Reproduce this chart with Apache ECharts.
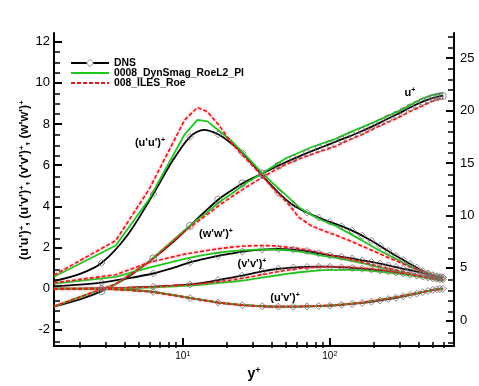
<!DOCTYPE html>
<html>
<head>
<meta charset="utf-8">
<script src="https://cdn.jsdelivr.net/npm/echarts@6/dist/echarts.min.js"></script>
<style>
  html, body { margin: 0; padding: 0; background: #fff; }
  #main { width: 479px; height: 386px; }
</style>
</head>
<body>
<div id="main"></div>
<script>
// y+ stations
var dnsYp = [1.33, 2, 2.8, 4.2, 6.3, 8.5, 11.2, 14, 17.4, 21, 25.4, 34.7, 44.7, 56.5, 70, 84, 100, 120, 142, 166, 192, 220, 250, 282, 316, 352, 390, 428, 466, 502, 535, 562, 587];
var dnsPlain = [1.33, 2, 4.2, 8.5, 14, 21]; // DNS stations drawn without a marker
var lesYp = [1.33, 3.5, 5.9, 10.3, 12.6, 14.7, 17.8, 21.6, 27, 34.5, 42, 51, 62, 75, 90, 110, 135, 165, 200, 240, 290, 350, 420, 500, 587];

// DNS
var uPlusD = [1.33, 2.0, 2.78, 4.1, 5.9, 7.4, 9.0, 10.3, 11.5, 12.3, 13.05, 14.0, 14.75, 15.4, 15.95, 16.4, 16.8, 17.25, 17.65, 18.05, 18.45, 18.85, 19.25, 19.6, 19.95, 20.3, 20.6, 20.85, 21.05, 21.2, 21.3, 21.38, 21.4];
var uuD = [0.37, 0.72, 1.25, 2.6, 4.6, 6.2, 7.38, 7.72, 7.5, 7.1, 6.6, 5.5, 4.67, 4.05, 3.7, 3.45, 3.25, 3.04, 2.82, 2.58, 2.33, 2.08, 1.83, 1.6, 1.4, 1.2, 1.02, 0.86, 0.74, 0.66, 0.6, 0.57, 0.56];
var wwD = [0.12, 0.2, 0.3, 0.5, 0.74, 1.0, 1.28, 1.45, 1.6, 1.7, 1.8, 1.9, 1.93, 1.9, 1.83, 1.72, 1.62, 1.55, 1.47, 1.38, 1.3, 1.22, 1.13, 1.05, 0.97, 0.9, 0.83, 0.76, 0.68, 0.62, 0.57, 0.54, 0.53];
var vvD = [0.0, 0.01, 0.02, 0.05, 0.1, 0.15, 0.21, 0.3, 0.42, 0.53, 0.64, 0.84, 0.97, 1.03, 1.06, 1.07, 1.07, 1.04, 1.01, 0.97, 0.93, 0.89, 0.84, 0.79, 0.74, 0.69, 0.64, 0.59, 0.55, 0.51, 0.48, 0.46, 0.45];
var uvD = [0.0, -0.005, -0.01, -0.05, -0.15, -0.3, -0.45, -0.57, -0.67, -0.74, -0.8, -0.85, -0.87, -0.87, -0.86, -0.84, -0.82, -0.78, -0.74, -0.69, -0.63, -0.57, -0.5, -0.44, -0.37, -0.3, -0.24, -0.17, -0.11, -0.06, -0.03, -0.01, 0.0];

// 0008_DynSmag_RoeL2_PI
var uPlusG = [1.33, 3.45, 5.6, 8.6, 9.6, 10.3, 11.3, 12.1, 13.1, 14.0, 14.75, 15.5, 16.0, 16.5, 16.9, 17.3, 17.9, 18.4, 18.9, 19.4, 19.9, 20.5, 21.1, 21.5, 21.65];
var uuG = [0.58, 2.1, 4.35, 7.5, 8.2, 8.13, 7.65, 7.16, 6.45, 5.64, 5.05, 4.51, 3.95, 3.58, 3.3, 3.05, 2.7, 2.35, 2.0, 1.7, 1.4, 1.1, 0.85, 0.65, 0.55];
var wwG = [0.25, 0.58, 1.02, 1.45, 1.58, 1.67, 1.76, 1.83, 1.88, 1.91, 1.9, 1.87, 1.8, 1.7, 1.6, 1.5, 1.38, 1.25, 1.1, 0.97, 0.84, 0.72, 0.6, 0.5, 0.43];
var vvG = [0.0, 0.02, 0.06, 0.14, 0.18, 0.22, 0.28, 0.34, 0.42, 0.54, 0.63, 0.72, 0.8, 0.86, 0.9, 0.92, 0.92, 0.9, 0.86, 0.8, 0.73, 0.65, 0.56, 0.47, 0.4];
var uvG = [0.0, -0.03, -0.13, -0.4, -0.5, -0.58, -0.67, -0.74, -0.8, -0.84, -0.86, -0.87, -0.86, -0.85, -0.83, -0.79, -0.74, -0.67, -0.58, -0.49, -0.39, -0.28, -0.17, -0.07, 0.0];

// 008_ILES_Roe
var uPlusR = [1.33, 3.45, 5.55, 8.5, 9.4, 10.1, 11.0, 11.8, 12.7, 13.6, 14.3, 14.9, 15.4, 15.8, 16.2, 16.6, 17.2, 17.7, 18.3, 18.8, 19.3, 19.9, 20.4, 20.9, 21.2];
var uuR = [0.66, 2.34, 4.83, 8.2, 8.8, 8.6, 7.9, 7.05, 6.3, 5.5, 4.8, 4.2, 3.45, 3.05, 2.82, 2.6, 2.35, 2.08, 1.82, 1.57, 1.32, 1.07, 0.85, 0.63, 0.5];
var wwR = [0.29, 0.68, 1.28, 1.68, 1.78, 1.86, 1.95, 2.02, 2.08, 2.1, 2.08, 2.02, 1.95, 1.85, 1.72, 1.58, 1.45, 1.3, 1.15, 1.02, 0.88, 0.75, 0.62, 0.5, 0.43];
var vvR = [0.0, 0.03, 0.08, 0.18, 0.23, 0.28, 0.35, 0.43, 0.54, 0.68, 0.8, 0.9, 0.98, 1.03, 1.06, 1.07, 1.05, 1.01, 0.95, 0.88, 0.79, 0.7, 0.6, 0.5, 0.42];
var uvR = [0.0, -0.03, -0.14, -0.41, -0.51, -0.59, -0.68, -0.75, -0.81, -0.85, -0.87, -0.87, -0.86, -0.85, -0.82, -0.79, -0.74, -0.67, -0.58, -0.49, -0.39, -0.28, -0.17, -0.07, 0.0];

// ticks
var xDecades = [1, 2];
var xMinor = [2, 3, 4, 5, 6, 7, 8, 9, 20, 30, 40, 50, 60, 70, 80, 90, 200, 300, 400, 500, 600];
var leftTicks = [-2, 0, 2, 4, 6, 8, 10, 12];
var rightTicks = [0, 5, 10, 15, 20, 25];

var FONT = '"Liberation Sans", Arial, Helvetica, sans-serif';
var NAMES = ['DNS', '0008_DynSmag_RoeL2_PI', '008_ILES_Roe'];

var chart = echarts.init(document.getElementById('main'));

function lg(v) { return Math.log10(v); }

function minorList(lo, hi, step, skipEvery) {
  var out = [];
  for (var v = lo; v <= hi + 1e-9; v += step) {
    var r = Math.round(v * 100) / 100;
    if (Math.abs(r / skipEvery - Math.round(r / skipEvery)) > 1e-6) out.push(r);
  }
  return out;
}

function sup(base, s) {
  return '{b|' + base + '}{s|' + s + '}';
}
function supRich(size, supSize, bold) {
  return {
    b: { fontSize: size, fontWeight: bold ? 'bold' : 'normal', fontFamily: FONT, color: '#000', lineHeight: size + 2 },
    s: { fontSize: supSize, fontWeight: bold ? 'bold' : 'normal', fontFamily: FONT, color: '#000', lineHeight: supSize, verticalAlign: 'top' }
  };
}

function dnsSeries(vals, yIdx, sym) {
  return {
    name: NAMES[0], type: 'line', xAxisIndex: 0, yAxisIndex: yIdx,
    smooth: 0.3, symbol: sym, symbolSize: 7, showAllSymbol: true,
    lineStyle: { color: '#000', width: 1.8 },
    itemStyle: { color: 'rgba(255,255,255,0)', borderColor: '#707070', borderWidth: 0.8 },
    data: dnsYp.map(function (x, i) {
      var d = { value: [lg(x), vals[i]] };
      if (dnsPlain.indexOf(x) >= 0) d.symbol = 'none';
      return d;
    })
  };
}

function lesSeries(name, vals, yIdx, lineStyle) {
  return {
    name: name, type: 'line', xAxisIndex: 0, yAxisIndex: yIdx,
    symbol: 'none', lineStyle: lineStyle,
    itemStyle: { color: lineStyle.color },
    data: lesYp.map(function (x, i) { return [lg(x), vals[i]]; })
  };
}

var greenLine = { color: '#1cc81c', width: 1.8 };
var redLine = { color: '#e8141e', width: 1.6, type: [4, 2], shadowColor: 'rgba(255,110,110,0.8)', shadowBlur: 3 };

var series = [
  dnsSeries(uuD, 0, 'diamond'),
  dnsSeries(uPlusD, 1, 'circle'),
  dnsSeries(wwD, 0, 'diamond'),
  dnsSeries(vvD, 0, 'diamond'),
  dnsSeries(uvD, 0, 'diamond'),
  lesSeries(NAMES[1], uuG, 0, greenLine),
  lesSeries(NAMES[1], uPlusG, 1, greenLine),
  lesSeries(NAMES[1], wwG, 0, greenLine),
  lesSeries(NAMES[1], vvG, 0, greenLine),
  lesSeries(NAMES[1], uvG, 0, greenLine),
  lesSeries(NAMES[2], uuR, 0, redLine),
  lesSeries(NAMES[2], uPlusR, 1, redLine),
  lesSeries(NAMES[2], wwR, 0, redLine),
  lesSeries(NAMES[2], vvR, 0, redLine),
  lesSeries(NAMES[2], uvR, 0, redLine)
];

var XMIN = lg(1.33), XMAX = lg(700);
var L_MIN = -2.786, L_MAX = 12.42, R_MIN = -2.465, R_MAX = 27.4;
var gridRect = { left: 54, right: 25, top: 33, bottom: 38 };

var majorTick = { show: true, inside: true, length: 8, lineStyle: { color: '#000', width: 2 } };
var axisLine = { show: true, onZero: false, lineStyle: { color: '#000', width: 2 } };

function minorTick(vals) {
  return { show: true, inside: true, length: 6, customValues: vals, lineStyle: { color: '#000', width: 1.5 } };
}

var option = {
  animation: false,
  backgroundColor: '#fff',
  grid: [
    Object.assign({}, gridRect),
    Object.assign({}, gridRect)
  ],
  legend: {
    data: [
      { name: NAMES[0], itemStyle: { color: '#fff', borderColor: '#707070', borderWidth: 0.8 } },
      { name: NAMES[1], itemStyle: { opacity: 0 } },
      { name: NAMES[2], itemStyle: { opacity: 0 } }
    ],
    orient: 'vertical', left: 65, top: 53,
    itemWidth: 38, itemHeight: 9, itemGap: 0,
    selectedMode: false,
    textStyle: { fontFamily: FONT, fontSize: 10.4, fontWeight: 'bold', color: '#000', lineHeight: 10 }
  },
  xAxis: [
    {
      type: 'value', gridIndex: 0, min: XMIN, max: XMAX,
      axisLine: axisLine, splitLine: { show: false },
      axisTick: Object.assign({ customValues: xDecades }, majorTick),
      axisLabel: {
        customValues: xDecades, margin: 4,
        formatter: function (v) { return sup('10', String(Math.round(v))); },
        rich: supRich(10, 7, false)
      },
      name: sup('y', '+'), nameLocation: 'middle', nameGap: 5,
      nameTextStyle: { rich: supRich(14, 9, true) }
    },
    {
      // minor ticks on a second, identical grid
      type: 'value', gridIndex: 1, position: 'bottom', min: XMIN, max: XMAX,
      axisLine: { show: true, onZero: false, lineStyle: { color: 'rgba(0,0,0,0)' } },
      splitLine: { show: false }, axisLabel: { show: false },
      axisTick: minorTick(xMinor.map(lg))
    }
  ],
  yAxis: [
    {
      type: 'value', gridIndex: 0, position: 'left', min: L_MIN, max: L_MAX,
      axisLine: axisLine, splitLine: { show: false },
      axisTick: Object.assign({ customValues: leftTicks }, majorTick),
      axisLabel: { customValues: leftTicks, margin: 4, fontFamily: FONT, fontSize: 13, color: '#000' }
    },
    {
      type: 'value', gridIndex: 0, position: 'right', min: R_MIN, max: R_MAX,
      axisLine: axisLine, splitLine: { show: false },
      axisTick: Object.assign({ customValues: rightTicks }, majorTick),
      axisLabel: { customValues: rightTicks, margin: 6, fontFamily: FONT, fontSize: 13, color: '#000' }
    },
    {
      type: 'value', gridIndex: 1, position: 'left', min: L_MIN, max: L_MAX,
      axisLine: { show: false }, splitLine: { show: false }, axisLabel: { show: false },
      axisTick: minorTick(minorList(-2.5, 12, 0.5, 2))
    },
    {
      type: 'value', gridIndex: 1, position: 'right', min: R_MIN, max: R_MAX,
      axisLine: { show: false }, splitLine: { show: false }, axisLabel: { show: false },
      axisTick: minorTick(minorList(-2, 27, 1, 5))
    }
  ],
  graphic: [
    {
      type: 'text', x: 25, y: 180, rotation: Math.PI / 2,
      style: {
        text: "{b|(u'u')}{s|+}{b|, (u'v')}{s|+}{b|, (v'v')}{s|+}{b|, (w'w')}{s|+}",
        rich: supRich(12.5, 8, true), align: 'center', verticalAlign: 'middle'
      }
    },
    { type: 'text', x: 150, y: 143, style: { text: sup("(u'u')", '+'), rich: supRich(11, 7, true), align: 'center', verticalAlign: 'middle' } },
    { type: 'text', x: 216, y: 234, style: { text: sup("(w'w')", '+'), rich: supRich(11, 7, true), align: 'center', verticalAlign: 'middle' } },
    { type: 'text', x: 252, y: 264, style: { text: sup("(v'v')", '+'), rich: supRich(11, 7, true), align: 'center', verticalAlign: 'middle' } },
    { type: 'text', x: 285, y: 298, style: { text: sup("(u'v')", '+'), rich: supRich(11, 7, true), align: 'center', verticalAlign: 'middle' } },
    { type: 'text', x: 410, y: 93, style: { text: sup('u', '+'), rich: supRich(11, 7, true), align: 'center', verticalAlign: 'middle' } }
  ],
  series: series
};

chart.setOption(option);
</script>
</body>
</html>
